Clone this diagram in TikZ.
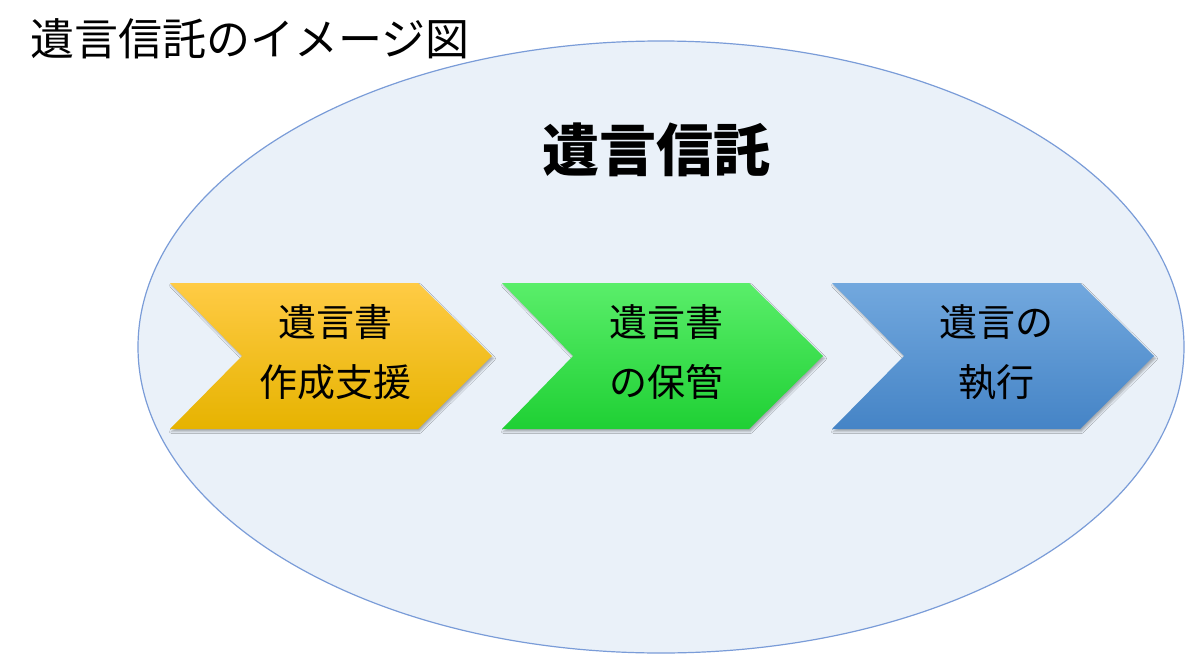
\documentclass[tikz,border=0pt]{standalone}
\usepackage{fontspec}
\newfontfamily\jp{Noto Sans CJK JP}
\usetikzlibrary{shapes.geometric,shadows.blur}
\definecolor{ovalfill}{HTML}{EAF1F9}
\definecolor{ovaldraw}{HTML}{7A9CD8}
\definecolor{ytop}{HTML}{FFCB45}
\definecolor{ymid}{HTML}{FFC000}
\definecolor{ybot}{HTML}{E6B300}
\definecolor{gtop}{HTML}{5AEE6A}
\definecolor{gmid}{HTML}{22E83C}
\definecolor{gbot}{HTML}{1FD034}
\definecolor{btop}{HTML}{72A8DE}
\definecolor{bmid}{HTML}{5A9ADA}
\definecolor{bbot}{HTML}{4584C6}
\begin{document}
\begin{tikzpicture}[x=1pt,y=-1pt,
  chevbox/.style={blur shadow={shadow xshift=1.5pt,shadow yshift=-2.5pt,shadow blur radius=2pt,shadow opacity=30}},
  chevtext/.style={font=\jp\fontsize{38}{60}\selectfont,align=center,text=black,inner sep=0pt},
  ovalshape/.style={ellipse,draw=ovaldraw,fill=ovalfill,line width=1.2pt,inner sep=0pt,minimum width=1046pt,minimum height=612pt}]
\useasboundingbox (0,0) rectangle (1200,656);
\fill[white] (0,0) rectangle (1200,656);
\node[anchor=west,font=\jp\fontsize{44}{50}\selectfont,inner sep=0pt] (title) at (30,39) {遺言信託のイメージ図};
\node[ovalshape] (oval) at (661,347) {};
\node[font=\jp\bfseries\fontsize{57}{60}\selectfont,inner sep=0pt] (main) at (656,150) {遺言信託};
% chevrons
\path[chevbox,top color=ytop,middle color=ymid,bottom color=ybot]
  (170,283) -- (418,283) -- (492,356) -- (418,429) -- (170,429) -- (242,356) -- cycle;
\path[chevbox,top color=gtop,middle color=gmid,bottom color=gbot]
  (502,283) -- (749,283) -- (823,356) -- (749,429) -- (502,429) -- (573,356) -- cycle;
\path[chevbox,top color=btop,middle color=bmid,bottom color=bbot]
  (832,283) -- (1080,283) -- (1154,356) -- (1080,429) -- (832,429) -- (904,356) -- cycle;
\node[chevtext] (s1) at (335,352) {遺言書\\作成支援};
\node[chevtext] (s2) at (666,352) {遺言書\\の保管};
\node[chevtext] (s3) at (996,352) {遺言の\\執行};
\end{tikzpicture}
\end{document}
